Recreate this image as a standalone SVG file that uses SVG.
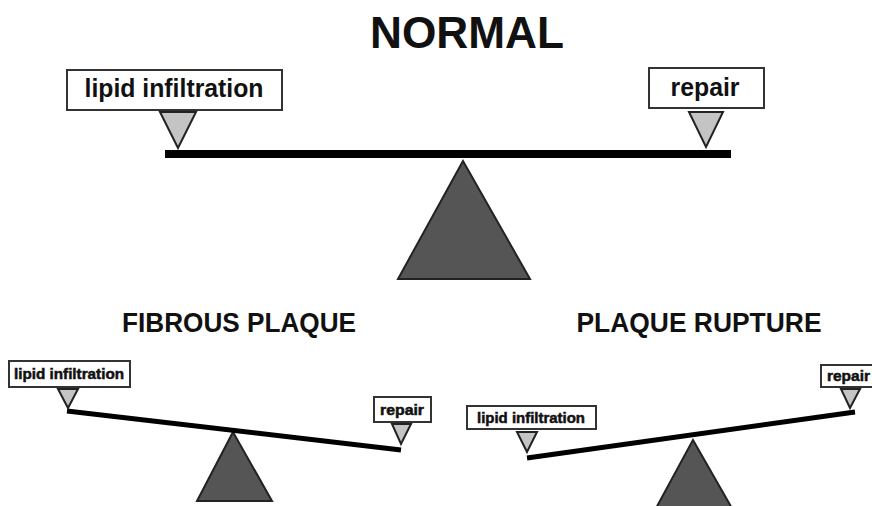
<svg xmlns="http://www.w3.org/2000/svg" width="872" height="506" viewBox="0 0 872 506">
<style>
.title{font-family:"Liberation Sans",Arial,sans-serif;font-weight:bold;fill:#111}
.lbl{font-family:"Liberation Sans",Arial,sans-serif;font-weight:bold;fill:#111}
.sm{stroke:#111;stroke-width:0.5}
.box{fill:#fff;stroke:#333;stroke-width:2}
.ptr{fill:#c4c4c4;stroke:#222;stroke-width:2;stroke-linejoin:miter}
.ful{fill:#555;stroke:#222;stroke-width:2}
.beam{stroke:#000;stroke-linecap:butt;fill:none}
</style>
<rect width="872" height="506" fill="#fff"/>
<g id="normal">
  <text class="title" x="467" y="48" font-size="45" text-anchor="middle" textLength="194" lengthAdjust="spacingAndGlyphs">NORMAL</text>
  <polygon class="ful" points="463,161 398,279 530,279"/>
  <line class="beam" x1="165" y1="154" x2="731" y2="154" stroke-width="8"/>
  <g id="normal-lipid">
    <rect class="box" x="67" y="70" width="215" height="40"/>
    <text class="lbl" x="174" y="97" font-size="25" text-anchor="middle" textLength="179" lengthAdjust="spacingAndGlyphs">lipid infiltration</text>
    <polygon class="ptr" points="160,112 196,112 178,148"/>
  </g>
  <g id="normal-repair">
    <rect class="box" x="649" y="68" width="115" height="40"/>
    <text class="lbl" x="705" y="96" font-size="25" text-anchor="middle" textLength="69" lengthAdjust="spacingAndGlyphs">repair</text>
    <polygon class="ptr" points="689,112 723,112 706,147"/>
  </g>
</g>
<g id="fibrous-plaque">
  <text class="title" x="239" y="332" font-size="27" text-anchor="middle" textLength="234" lengthAdjust="spacingAndGlyphs">FIBROUS PLAQUE</text>
  <polygon class="ful" points="233,432 197,501 272,501"/>
  <line class="beam" x1="67" y1="411" x2="401" y2="450" stroke-width="5"/>
  <g id="fp-lipid">
    <rect class="box" x="9" y="361" width="121" height="26" stroke-width="1.5"/>
    <text class="lbl sm" x="69" y="379" font-size="14.5" text-anchor="middle" textLength="110" lengthAdjust="spacingAndGlyphs">lipid infiltration</text>
    <polygon class="ptr" points="58,389 78,389 68,408" stroke-width="1.5"/>
  </g>
  <g id="fp-repair">
    <rect class="box" x="374" y="397" width="57" height="25" stroke-width="1.5"/>
    <text class="lbl sm" x="402" y="415" font-size="14.5" text-anchor="middle" textLength="44" lengthAdjust="spacingAndGlyphs">repair</text>
    <polygon class="ptr" points="392,424 411,424 401,444" stroke-width="1.5"/>
  </g>
</g>
<g id="plaque-rupture">
  <text class="title" x="699" y="332" font-size="27" text-anchor="middle" textLength="245" lengthAdjust="spacingAndGlyphs">PLAQUE RUPTURE</text>
  <polygon class="ful" points="693,440 655,510 733,510"/>
  <line class="beam" x1="527" y1="458" x2="855" y2="412" stroke-width="5"/>
  <g id="pr-lipid">
    <rect class="box" x="467" y="406" width="129" height="23" stroke-width="1.5"/>
    <text class="lbl sm" x="531" y="423" font-size="14.5" text-anchor="middle" textLength="108" lengthAdjust="spacingAndGlyphs">lipid infiltration</text>
    <polygon class="ptr" points="517,432 537,432 527,452" stroke-width="1.5"/>
  </g>
  <g id="pr-repair">
    <rect class="box" x="821" y="365" width="56" height="22" stroke-width="1.5"/>
    <text class="lbl sm" x="827" y="381" font-size="14.5" textLength="43" lengthAdjust="spacingAndGlyphs">repair</text>
    <polygon class="ptr" points="841,389 860,389 850,408" stroke-width="1.5"/>
  </g>
</g>
</svg>
